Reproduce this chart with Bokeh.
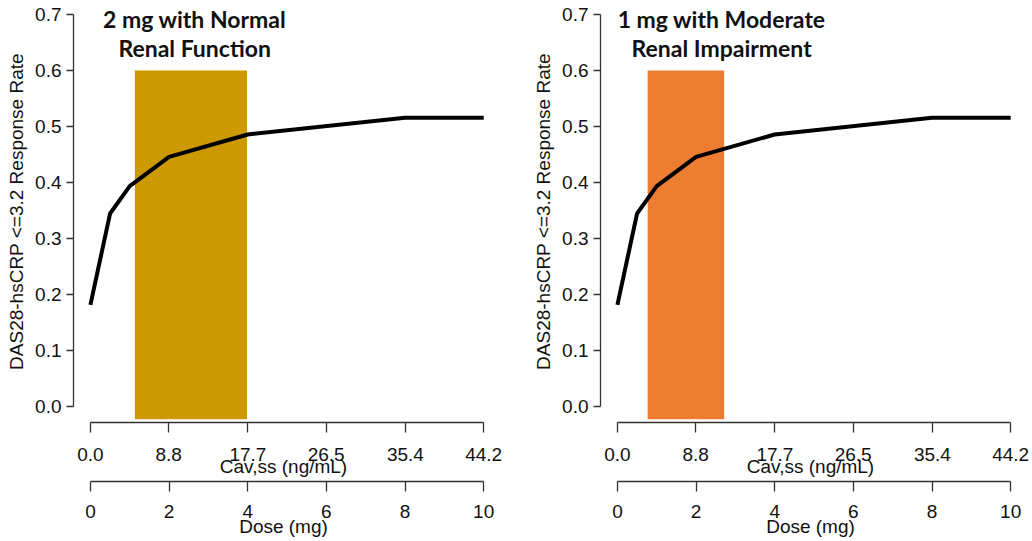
from bokeh.plotting import figure
from bokeh.models import Range1d, LinearAxis, FixedTicker, PrintfTickFormatter, Label
from bokeh.layouts import row, column
from bokeh.embed import file_html
from bokeh.resources import INLINE

# ---- data ----
dose_mg = [0, 0.5, 1, 2, 4, 8, 10]
response_rate = [0.182, 0.345, 0.394, 0.446, 0.486, 0.516, 0.516]
cav_per_mg = 4.42  # Cav,ss (ng/mL) per mg
cav_ticks = [0.0, 8.8, 17.7, 26.5, 35.4, 44.2]
dose_ticks = [0, 2, 4, 6, 8, 10]
rate_ticks = [0.0, 0.1, 0.2, 0.3, 0.4, 0.5, 0.6, 0.7]
panel_titles = [["2 mg with Normal", "Renal Function"],
                ["1 mg with Moderate", "Renal Impairment"]]
band_cav_low = [5.0, 3.4]
band_cav_high = [17.6, 12.0]
band_rate_low = [-0.022, -0.022]
band_rate_high = [0.6, 0.6]
band_colors = ["#CC9900", "#ED7D31"]

TXT = "#111111"
AX = "#333333"
FONT = "Liberation Sans"
FS = "19px"

X0, X1 = -0.43, 10.25
Y0, Y1 = -0.0278, 0.725


def style(ax, tick_out, standoff, label_standoff):
    ax.axis_line_color = AX
    ax.axis_line_width = 1.3
    ax.major_tick_line_color = AX
    ax.major_tick_line_width = 1.3
    ax.major_tick_in = 0
    ax.major_tick_out = tick_out
    ax.minor_tick_line_color = None
    ax.major_label_text_font = FONT
    ax.major_label_text_font_size = FS
    ax.major_label_text_color = TXT
    ax.axis_label_text_font = FONT
    ax.axis_label_text_font_size = FS
    ax.axis_label_text_font_style = "normal"
    ax.axis_label_text_color = TXT
    ax.major_label_standoff = standoff
    ax.axis_label_standoff = label_standoff


def base(width, height, border_right, border_bottom, y_range):
    p = figure(width=width, height=height,
               x_range=Range1d(X0, X1), y_range=y_range,
               output_backend="svg", toolbar_location=None,
               x_axis_location=None, y_axis_location=None,
               min_border_left=73, min_border_right=border_right,
               min_border_top=0, min_border_bottom=border_bottom,
               outline_line_color=None,
               background_fill_color="white", border_fill_color="white")
    p.grid.visible = False
    return p


def panel(i, width, border_right):
    p = base(width, 480, border_right, 58, Range1d(Y0, Y1))
    p.extra_x_ranges = {"cav": Range1d(X0 * cav_per_mg, X1 * cav_per_mg)}

    p.quad(left=[band_cav_low[i]], right=[band_cav_high[i]],
           bottom=[band_rate_low[i]], top=[band_rate_high[i]],
           x_range_name="cav", fill_color=band_colors[i], line_color=None)
    p.line(dose_mg, response_rate, line_color="black", line_width=4,
           line_join="round")

    yax = LinearAxis(ticker=FixedTicker(ticks=rate_ticks),
                     formatter=PrintfTickFormatter(format="%.1f"),
                     bounds=(0, 0.7),
                     axis_label="DAS28-hsCRP <=3.2 Response Rate")
    style(yax, 7, 5, 5)
    p.add_layout(yax, "left")

    cax = LinearAxis(x_range_name="cav", ticker=FixedTicker(ticks=cav_ticks),
                     formatter=PrintfTickFormatter(format="%.1f"),
                     bounds=(0, cav_ticks[-1]), axis_label="Cav,ss (ng/mL)")
    style(cax, 10, 15, -8)
    p.add_layout(cax, "below")

    for k, line in enumerate(panel_titles[i]):
        p.add_layout(Label(x=2.65, y=[0.6928, 0.6411][k], text=line,
                           text_align="center", text_baseline="alphabetic",
                           text_font="Lato", text_font_style="bold",
                           text_font_size="23px", text_color=TXT))
    return p


def dose_strip(width, border_right):
    s = base(width, 61, border_right, 60, Range1d(0, 1))
    dax = LinearAxis(ticker=FixedTicker(ticks=dose_ticks),
                     bounds=(0, dose_ticks[-1]), axis_label="Dose (mg)")
    style(dax, 10, 13, -5)
    s.add_layout(dax, "below")
    return s


p1 = panel(0, 527, 34)
p2 = panel(1, 505, 12)
s1 = dose_strip(527, 34)
s2 = dose_strip(505, 12)
layout = column(row(p1, p2), row(s1, s2))
open("out.html", "w").write(file_html(layout, INLINE))
